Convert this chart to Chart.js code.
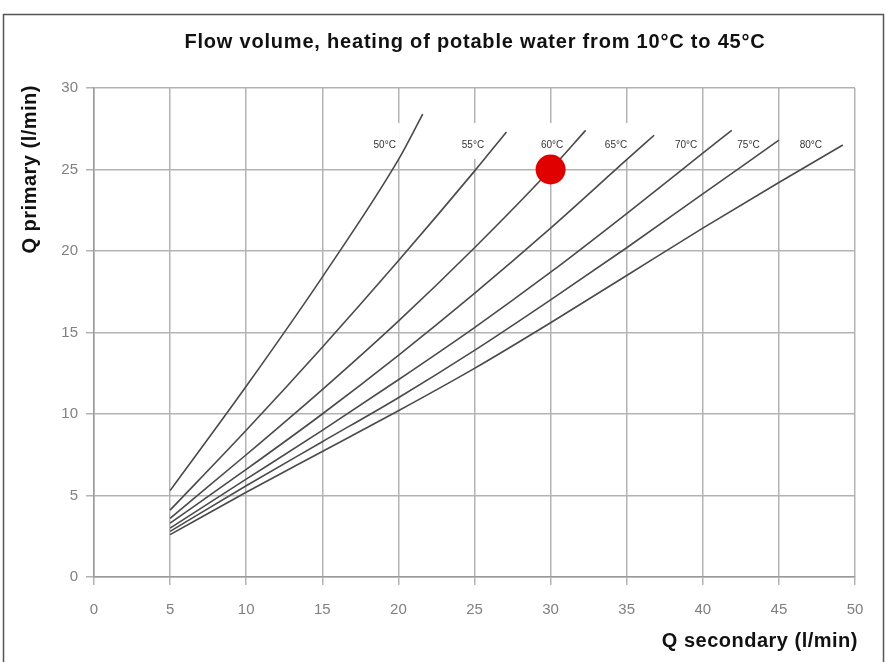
<!DOCTYPE html>
<html>
<head>
<meta charset="utf-8">
<script src="https://cdn.jsdelivr.net/npm/chart.js@4.4.0/dist/chart.umd.min.js"></script>
<style>
  html, body { margin: 0; padding: 0; background: #fff; }
</style>
</head>
<body>
<canvas id="flow" width="886" height="662"></canvas>
<script>
// curve names (primary flow temperature)
var curveNames = ['50°C', '55°C', '60°C', '65°C', '70°C', '75°C', '80°C'];

// Q secondary / Q primary (l/min)
var sec50 = [5, 10, 15, 20, 21.6];
var pri50 = [5.3, 11.7, 18.4, 25.6, 28.4];
var sec55 = [5, 10, 15, 20, 25, 27.1];
var pri55 = [4.1, 9.0, 14.1, 19.4, 24.9, 27.3];
var sec60 = [5, 10, 15, 20, 25, 30, 32.3];
var pri60 = [3.6, 7.5, 11.5, 15.7, 20.2, 25.0, 27.4];
var sec65 = [5, 10, 15, 20, 25, 30, 35, 36.8];
var pri65 = [3.3, 6.6, 10.0, 13.6, 17.4, 21.4, 25.6, 27.1];
var sec70 = [5, 10, 15, 20, 25, 30, 35, 40, 41.9];
var pri70 = [3.0, 6.0, 9.0, 12.1, 15.3, 18.7, 22.3, 26.0, 27.4];
var sec75 = [5, 10, 15, 20, 25, 30, 35, 40, 45];
var pri75 = [2.8, 5.6, 8.3, 11.0, 13.9, 17.0, 20.2, 23.5, 26.8];
var sec80 = [5, 10, 15, 20, 25, 30, 35, 40, 45, 49.2];
var pri80 = [2.6, 5.2, 7.7, 10.2, 12.8, 15.6, 18.5, 21.4, 24.2, 26.5];

// where the curve names sit
var labelSec = [19.1, 24.9, 30.1, 34.3, 38.9, 43.0, 47.1];
var labelPri = [26.5, 26.5, 26.5, 26.5, 26.5, 26.5, 26.5];

// marked operating point
var pointSec = [30];
var pointPri = [25];

var xTicks = [0, 5, 10, 15, 20, 25, 30, 35, 40, 45, 50];
var yTicks = [0, 5, 10, 15, 20, 25, 30];

function pairs(xs, ys) {
	return xs.map(function(x, i) { return {x: x, y: ys[i]}; });
}

var curves = [
	pairs(sec50, pri50), pairs(sec55, pri55), pairs(sec60, pri60),
	pairs(sec65, pri65), pairs(sec70, pri70), pairs(sec75, pri75),
	pairs(sec80, pri80)
];

var datasets = [{
	label: 'point',
	data: pairs(pointSec, pointPri),
	showLine: false,
	pointRadius: 15,
	pointHoverRadius: 15,
	pointBackgroundColor: '#e10000',
	pointBorderWidth: 0
}];
curves.forEach(function(c, i) {
	datasets.push({
		label: curveNames[i],
		data: c,
		showLine: true,
		borderColor: '#4a4a4a',
		borderWidth: 1.6,
		pointRadius: 0,
		cubicInterpolationMode: 'monotone'
	});
});

var decor = {
	id: 'decor',
	beforeDraw: function(chart) {
		var ctx = chart.ctx;
		ctx.save();
		ctx.fillStyle = '#fff';
		ctx.fillRect(0, 0, chart.width, chart.height);
		ctx.restore();
	},
	beforeDatasetsDraw: function(chart) {
		// white patches behind the curve names
		var ctx = chart.ctx, xs = chart.scales.x, ys = chart.scales.y;
		ctx.save();
		ctx.font = '10px "Liberation Sans", Arial, sans-serif';
		ctx.fillStyle = '#fff';
		curveNames.forEach(function(n, i) {
			var px = xs.getPixelForValue(labelSec[i]);
			var py = ys.getPixelForValue(labelPri[i]);
			var w = ctx.measureText(n).width + 8;
			ctx.fillRect(px - w / 2, py - 22, w, 36);
		});
		ctx.restore();
	},
	afterDraw: function(chart) {
		var ctx = chart.ctx, xs = chart.scales.x, ys = chart.scales.y;
		ctx.save();
		// frame
		ctx.strokeStyle = '#555';
		ctx.lineWidth = 1.5;
		ctx.strokeRect(3.5, 14.5, 880, 700);
		// title
		ctx.fillStyle = '#111';
		ctx.textBaseline = 'middle';
		ctx.textAlign = 'center';
		ctx.letterSpacing = '0.8px';
		ctx.font = 'bold 20px "Liberation Sans", Arial, sans-serif';
		ctx.fillText('Flow volume, heating of potable water from 10°C to 45°C', 475, 42);
		// axis titles
		ctx.letterSpacing = '0.5px';
		ctx.textAlign = 'right';
		ctx.fillText('Q secondary (l/min)', 858, 641);
		ctx.translate(30, 85);
		ctx.rotate(-Math.PI / 2);
		ctx.fillText('Q primary (l/min)', 0, 0);
		ctx.restore();
		// curve names
		ctx.save();
		ctx.font = '10px "Liberation Sans", Arial, sans-serif';
		ctx.fillStyle = '#333';
		ctx.textAlign = 'center';
		ctx.textBaseline = 'middle';
		curveNames.forEach(function(n, i) {
			ctx.fillText(n, xs.getPixelForValue(labelSec[i]), ys.getPixelForValue(labelPri[i]));
		});
		ctx.restore();
	}
};

var ctx = document.getElementById('flow').getContext('2d');
var flowChart = new Chart(ctx, {
	type: 'scatter',
	data: {datasets: datasets},
	options: {
		responsive: false,
		animation: false,
		layout: {padding: {top: 88, right: 31, left: 0, bottom: 0}},
		plugins: {legend: {display: false}, tooltip: {enabled: false}},
		scales: {
			x: {
				type: 'linear', min: 0, max: 50,
				afterBuildTicks: function(s) { s.ticks = xTicks.map(function(v) { return {value: v}; }); },
				afterFit: function(s) { s.height = 85; },
				ticks: {color: '#808080', padding: 16, font: {size: 15, family: '"Liberation Sans", Arial'}},
				grid: {color: '#b3b3b3', lineWidth: 1.5, tickLength: 8},
				border: {color: '#9a9a9a', width: 1.5}
			},
			y: {
				type: 'linear', min: 0, max: 30,
				afterBuildTicks: function(s) { s.ticks = yTicks.map(function(v) { return {value: v}; }); },
				afterFit: function(s) { s.width = 94; },
				ticks: {color: '#808080', padding: 8, font: {size: 15, family: '"Liberation Sans", Arial'}},
				grid: {color: '#b3b3b3', lineWidth: 1.5, tickLength: 8},
				border: {color: '#9a9a9a', width: 1.5}
			}
		}
	},
	plugins: [decor]
});
</script>
</body>
</html>
